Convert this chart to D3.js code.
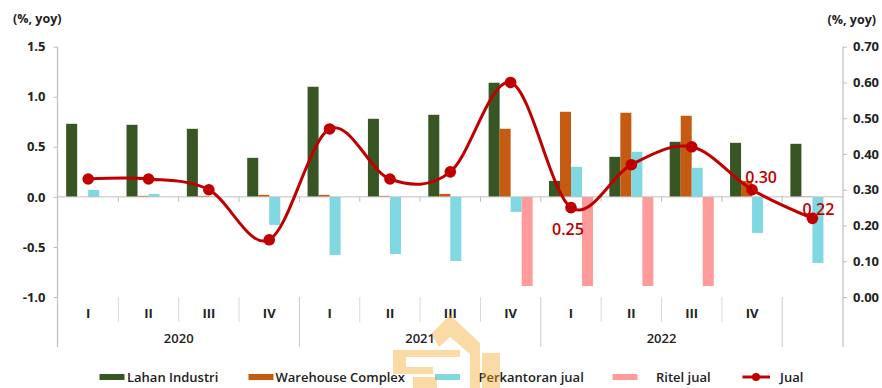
<!DOCTYPE html>
<html>
<head>
<meta charset="utf-8">
<script src="https://cdn.jsdelivr.net/npm/d3@7"></script>
<style>
  html, body { margin: 0; padding: 0; background: #fff; }
  svg { display: block; }
  text { font-family: "Open Sans", "DejaVu Sans", sans-serif; }
</style>
</head>
<body>
<svg id="chart" width="882" height="388"></svg>
<script>
// ---------------- data ----------------
const quarters = ["I", "II", "III", "IV", "I", "II", "III", "IV", "I", "II", "III", "IV", ""];
const years = ["2020", "2021", "2022"];
const seriesNames = ["Lahan Industri", "Warehouse Complex", "Perkantoran jual", "Ritel jual"];
const lahanIndustri   = [0.73, 0.72, 0.68, 0.39, 1.10, 0.78, 0.82, 1.14, 0.16, 0.40, 0.55, 0.54, 0.53];
const warehouseComplex = [0.00, 0.01, 0.01, 0.02, 0.02, 0.01, 0.03, 0.68, 0.85, 0.84, 0.81, 0.16, 0.005];
const perkantoranJual = [0.07, 0.03, 0.005, -0.28, -0.58, -0.57, -0.64, -0.15, 0.30, 0.45, 0.29, -0.36, -0.66];
const ritelJual       = [0, 0, 0, 0, 0, 0, 0, -0.89, -0.89, -0.89, -0.89, 0, 0];
const jual            = [0.33, 0.33, 0.30, 0.16, 0.47, 0.33, 0.35, 0.60, 0.25, 0.37, 0.42, 0.30, 0.22];
const jualLabels = { 8: "0.25", 11: "0.30", 12: "0.22" };
const leftTicks = [-1.0, -0.5, 0.0, 0.5, 1.0, 1.5];
const rightTicks = [0, 0.1, 0.2, 0.3, 0.4, 0.5, 0.6, 0.7];
const axisTitle = "(%, yoy)";

// ---------------- styles ----------------
const barColors = ["#375623", "#C55A11", "#7FD8E2", "#FF9B9B"];
const lineColor = "#C00000";
const axisColor = "#BFBFBF";
const textColor = "#222222";

const svg = d3.select("#chart");
const idx = d3.range(quarters.length);
const barData = [lahanIndustri, warehouseComplex, perkantoranJual, ritelJual];

const plotL = 57.5, plotR = 843, plotT = 46.7, plotB = 297;
const x0 = d3.scaleBand().domain(idx).range([58, 842.6]).padding(0);
const x1 = d3.scaleBand().domain(d3.range(seriesNames.length)).range([0, x0.bandwidth()])
  .paddingInner(0).paddingOuter(0.74);
const yL = d3.scaleLinear().domain([-1, 1.5]).range([plotB, plotT]);
const yR = d3.scaleLinear().domain([0, 0.7]).range([plotB, plotT]);

// ---------------- bars ----------------
const gBars = svg.append("g");
barData.forEach((vals, s) => {
  gBars.append("g").attr("fill", barColors[s])
    .selectAll("rect").data(idx).join("rect")
    .attr("x", i => x0(i) + x1(s))
    .attr("width", x1.bandwidth())
    .attr("y", i => Math.min(yL(vals[i]), yL(0)))
    .attr("height", i => Math.abs(yL(vals[i]) - yL(0)));
});

// zero line with category ticks
svg.append("line").attr("x1", plotL).attr("x2", plotR).attr("y1", yL(0)).attr("y2", yL(0))
  .attr("stroke", axisColor).attr("stroke-width", 1);
svg.append("g").selectAll("line").data(d3.range(1, quarters.length)).join("line")
  .attr("x1", i => x0(i)).attr("x2", i => x0(i))
  .attr("y1", yL(0)).attr("y2", yL(0) + 5)
  .attr("stroke", axisColor);

// ---------------- left axis ----------------
const axL = svg.append("g").attr("transform", `translate(${plotL},0)`)
  .call(d3.axisLeft(yL).tickValues(leftTicks).tickSize(4).tickPadding(8).tickFormat(d => d.toFixed(1)));
axL.select(".domain").remove();
axL.selectAll(".tick line").attr("stroke", axisColor);
axL.selectAll(".tick text").attr("fill", textColor).attr("font-size", 13).attr("font-weight", 700)
  .attr("font-family", "'Open Sans', sans-serif");
svg.append("line").attr("x1", plotL).attr("x2", plotL).attr("y1", plotT).attr("y2", 347)
  .attr("stroke", axisColor).attr("stroke-width", 1.2);

// ---------------- right axis ----------------
const axR = svg.append("g").attr("transform", `translate(${plotR},0)`)
  .call(d3.axisRight(yR).tickValues(rightTicks).tickSize(4).tickPadding(6).tickFormat(d => d.toFixed(2)));
axR.select(".domain").remove();
axR.selectAll(".tick line").attr("stroke", axisColor);
axR.selectAll(".tick text").attr("fill", textColor).attr("font-size", 13).attr("font-weight", 700)
  .attr("font-family", "'Open Sans', sans-serif");
svg.append("line").attr("x1", plotR).attr("x2", plotR).attr("y1", plotT).attr("y2", 347)
  .attr("stroke", axisColor).attr("stroke-width", 1.2);

// axis titles
svg.append("text").attr("x", 13).attr("y", 23).attr("font-size", 12.5).attr("font-weight", 700)
  .attr("fill", textColor).text(axisTitle);
svg.append("text").attr("x", 876).attr("y", 24).attr("text-anchor", "end").attr("font-size", 12.5)
  .attr("font-weight", 700).attr("fill", textColor).text(axisTitle);

// ---------------- category axis (multi-level) ----------------
const gX = svg.append("g");
d3.range(1, quarters.length).forEach(i => {
  const isYear = i % 4 === 0;
  gX.append("line").attr("x1", x0(i)).attr("x2", x0(i))
    .attr("y1", plotB).attr("y2", isYear ? 347 : 322)
    .attr("stroke", isYear ? "#C8C8C8" : "#D9D9D9").attr("stroke-width", 1);
});
gX.selectAll("text.q").data(idx).join("text").attr("class", "q")
  .attr("x", i => x0(i) + x0.bandwidth() / 2).attr("y", 318)
  .attr("text-anchor", "middle").attr("font-size", 13).attr("font-weight", 700)
  .attr("fill", textColor).text(i => quarters[i]);
gX.selectAll("text.y").data(years).join("text").attr("class", "y")
  .attr("x", (d, k) => x0(k * 4) + 2 * x0.bandwidth()).attr("y", 343)
  .attr("text-anchor", "middle").attr("font-size", 13).attr("font-weight", 600)
  .attr("fill", textColor).text(d => d);

// ---------------- line ----------------
const cx = i => x0(i) + x0.bandwidth() / 2;
const line = d3.line().x(i => cx(i)).y(i => yR(jual[i])).curve(d3.curveCardinal.tension(0));
svg.append("path").datum(idx).attr("d", line).attr("fill", "none")
  .attr("stroke", lineColor).attr("stroke-width", 3);
svg.append("g").selectAll("circle").data(idx).join("circle")
  .attr("cx", cx).attr("cy", i => yR(jual[i])).attr("r", 5.8).attr("fill", lineColor);

// data labels
const labelOffsets = { 8: [-3, 22], 11: [9, -12], 12: [6, -9] };
Object.keys(jualLabels).forEach(k => {
  const i = +k;
  svg.append("text").attr("x", cx(i) + labelOffsets[i][0]).attr("y", yR(jual[i]) + labelOffsets[i][1])
    .attr("text-anchor", "middle").attr("font-size", 16).attr("font-weight", 600)
    .attr("fill", lineColor).attr("dy", "0.35em").text(jualLabels[i]);
});

// ---------------- legend ----------------
const legendItems = [
  { name: seriesNames[0], color: barColors[0], sx: 99.5, tx: 127 },
  { name: seriesNames[1], color: barColors[1], sx: 248.5, tx: 275.5 },
  { name: seriesNames[2], color: barColors[2], sx: 435, tx: 478.5 },
  { name: seriesNames[3], color: barColors[3], sx: 612.5, tx: 656 }
];
const gL = svg.append("g");
legendItems.forEach(d => {
  gL.append("rect").attr("x", d.sx).attr("y", 374).attr("width", 25).attr("height", 6).attr("fill", d.color);
  gL.append("text").attr("x", d.tx).attr("y", 382).attr("font-size", 13).attr("font-weight", 600)
    .attr("fill", textColor).text(d.name);
});
gL.append("line").attr("x1", 742.5).attr("x2", 770).attr("y1", 377).attr("y2", 377)
  .attr("stroke", lineColor).attr("stroke-width", 3);
gL.append("circle").attr("cx", 756).attr("cy", 377).attr("r", 4).attr("fill", lineColor);
gL.append("text").attr("x", 780).attr("y", 382).attr("font-size", 13).attr("font-weight", 600)
  .attr("fill", textColor).text("Jual");

// ---------------- faint watermark ----------------
const wm = svg.append("g").attr("fill", "#F5A623").attr("opacity", 0.4);
wm.append("path").attr("d",
  "M431,334 L450,315 L480,343 L480,388 L470,388 L470,354 L450,337 L439,347 Z");
wm.append("rect").attr("x", 393).attr("y", 350).attr("width", 67).attr("height", 7);
wm.append("rect").attr("x", 393).attr("y", 350).attr("width", 13).attr("height", 24);
wm.append("rect").attr("x", 403).attr("y", 367).attr("width", 30).attr("height", 7);
wm.append("rect").attr("x", 413).attr("y", 377).attr("width", 24).attr("height", 11);
wm.append("rect").attr("x", 482).attr("y", 353).attr("width", 18).attr("height", 35);
</script>
</body>
</html>
